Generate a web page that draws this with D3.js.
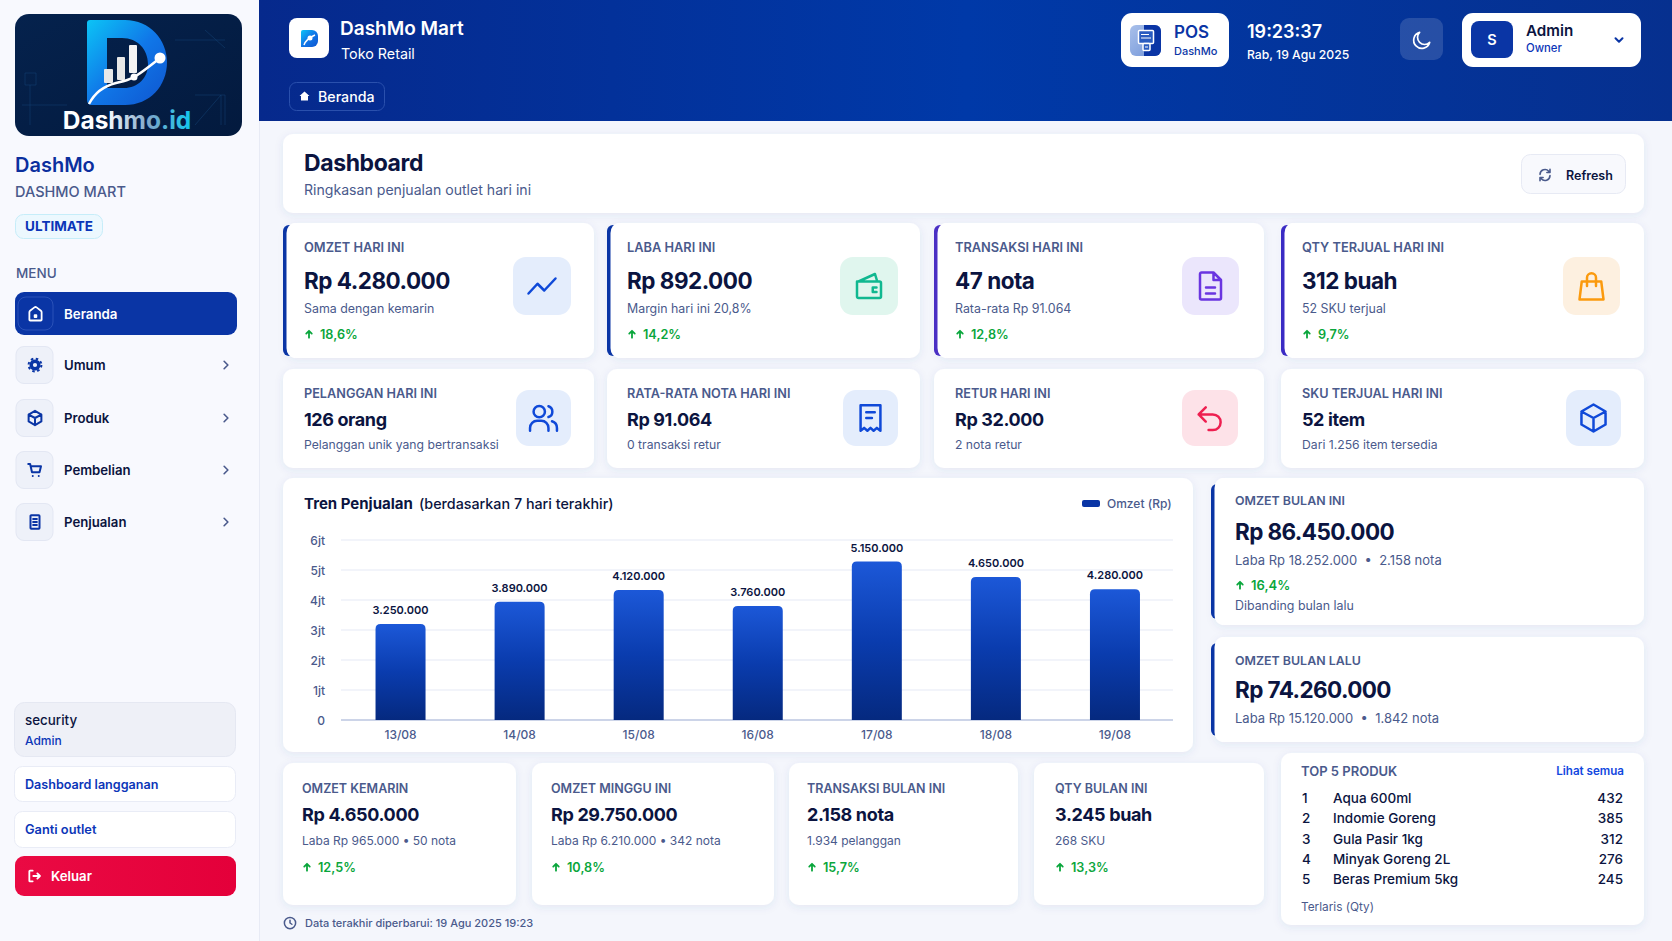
<!DOCTYPE html>
<meta charset="utf-8">
<style>

body {
  margin: 0;
  background: #f4f6fc;
}

svg {
  display: block;
  font-family: Inter, "Noto Sans", sans-serif;
}

text {
  dominant-baseline: central;
  white-space: pre;
}

.axis path, .axis line {
  display: none;
}

</style>
<body>
<div id="page"></div>
<script src="https://cdn.jsdelivr.net/npm/d3@7"></script>
<script>

// chart data
var days = ["13/08", "14/08", "15/08", "16/08", "17/08", "18/08", "19/08"];
var omzet = [3.2, 3.94, 4.33, 3.8, 5.28, 4.77, 4.36]; // bar heights as drawn, in juta
var omzetLabels = ["3.250.000", "3.890.000", "4.120.000", "3.760.000", "5.150.000", "4.650.000", "4.280.000"];
var yTicks = [0, 1, 2, 3, 4, 5, 6];

// kpi rows
var topLabels = ["OMZET HARI INI", "LABA HARI INI", "TRANSAKSI HARI INI", "QTY TERJUAL HARI INI"];
var topValues = ["Rp 4.280.000", "Rp 892.000", "47 nota", "312 buah"];
var topSubs = ["Sama dengan kemarin", "Margin hari ini 20,8%", "Rata-rata Rp 91.064", "52 SKU terjual"];
var topDeltas = ["18,6%", "14,2%", "12,8%", "9,7%"];

var midLabels = ["PELANGGAN HARI INI", "RATA-RATA NOTA HARI INI", "RETUR HARI INI", "SKU TERJUAL HARI INI"];
var midValues = ["126 orang", "Rp 91.064", "Rp 32.000", "52 item"];
var midSubs = ["Pelanggan unik yang bertransaksi", "0 transaksi retur", "2 nota retur", "Dari 1.256 item tersedia"];

var lowLabels = ["OMZET KEMARIN", "OMZET MINGGU INI", "TRANSAKSI BULAN INI", "QTY BULAN INI"];
var lowValues = ["Rp 4.650.000", "Rp 29.750.000", "2.158 nota", "3.245 buah"];
var lowSubs = ["Laba Rp 965.000 • 50 nota", "Laba Rp 6.210.000 • 342 nota", "1.934 pelanggan", "268 SKU"];
var lowDeltas = ["12,5%", "10,8%", "15,7%", "13,3%"];

var products = ["Aqua 600ml", "Indomie Goreng", "Gula Pasir 1kg", "Minyak Goreng 2L", "Beras Premium 5kg"];
var productQty = [432, 385, 312, 276, 245];

var menuItems = ["Umum", "Produk", "Pembelian", "Penjualan"];

var icons = {
  trend: "M3 17l6-6.500 4.500 4.500L21 7",
  wallet: "M4 9h15a1 1 0 0 1 1 1v9a1 1 0 0 1-1 1H5a1 1 0 0 1-1-1V9zM5 9l11-5 1.500 5M17 13h-2.500v3H17",
  file: "M6 3h8l5 5v12a1 1 0 0 1-1 1H6a1 1 0 0 1-1-1V4a1 1 0 0 1 1-1zM14 3v5h5M9 13h6M9 17h6",
  bag: "M5.500 9h13L20 21H4zM9 12V6.500a3 3 0 0 1 6 0V12",
  users: "M9 3.500a4 4 0 1 1 0 8 4 4 0 0 1 0-8zM2.500 21v-2a5 5 0 0 1 5-5h3a5 5 0 0 1 5 5v2M15.500 3.700a4 4 0 0 1 0 7.600M18 14.300a5 5 0 0 1 3.500 4.700v2",
  receipt: "M5 3h14v18l-2.500-2-2.300 2-2.200-2-2.200 2-2.300-2L5 21zM9 8h6M9 12h4",
  undo: "M9 4.500L4 9.500l5 5M4 9.500h10a5.500 5.500 0 0 1 0 11h-3",
  box: "M12 2.500l8.500 4.900v9.200L12 21.500l-8.500-4.900V7.400zM3.500 7.400L12 12l8.500-4.600M12 12v9.500",
  home: "M5 10.500a2 2 0 0 1 .8-1.600l5-3.900a2 2 0 0 1 2.400 0l5 3.900a2 2 0 0 1 .8 1.600V19a1 1 0 0 1-1 1H6a1 1 0 0 1-1-1zM11 14h2v2h-2z",
  cart: "M3 4h2.500l2.500 11h10l2-8H6.500M9 20h.01M17 20h.01",
  doc: "M7 3h10a1 1 0 0 1 1 1v16a1 1 0 0 1-1 1H7a1 1 0 0 1-1-1V4a1 1 0 0 1 1-1zM9.500 8h5M9.500 12h5M9.500 16h5",
  chevron: "M9 6l6 6-6 6",
  down: "M6 9l6 6 6-6",
  moon: "M20 14.500A8.500 8.500 0 1 1 9.500 4 7 7 0 0 0 20 14.500z",
  refresh: "M4 11a8 8 0 0 1 14-5l2 2M20 3v5h-5M20 13a8 8 0 0 1-14 5l-2-2M4 21v-5h5",
  logout: "M10 4H6a1 1 0 0 0-1 1v14a1 1 0 0 0 1 1h4M11 12h10M17 8l4 4-4 4",
  arrow: "M12 20V5M6 11l6-6 6 6",
  clock: "M12 3a9 9 0 1 1 0 18 9 9 0 0 1 0-18zM12 7.500V12l3 2"
};

var navy = "#0b1440",
    slate = "#4a5a8c",
    blue = "#0a35a5",
    link = "#0c36b8",
    green = "#0aa63c";

var svg = d3.select("#page").append("svg")
    .attr("width", 1672)
    .attr("height", 941);

var defs = svg.append("defs");

function gradient(id, stops, x2, y2) {
  var g = defs.append("linearGradient").attr("id", id)
      .attr("x1", 0).attr("y1", 0).attr("x2", x2).attr("y2", y2);
  stops.forEach(function(s, i) {
    g.append("stop").attr("offset", i / (stops.length - 1)).attr("stop-color", s);
  });
}

gradient("bar", ["#1c58d8", "#0a3cae", "#05297f"], 0, 1);
gradient("head", ["#06298c", "#0039a8", "#06308f"], 1, 0);
gradient("logoBg", ["#05224d", "#031a3e"], 1, 1);
gradient("logoD", ["#0cc4f6", "#1077e8", "#0f55cf"], 1, 1);
gradient("logoText", ["#ffffff", "#ffffff", "#7fa6c9", "#10c8ee"], 1, 0);
gradient("pos", ["#a9c0ea", "#6f93d8"], 1, 1);
gradient("red", ["#ea0a43", "#e4003a"], 1, 0);

var shadow = defs.append("filter").attr("id", "soft")
    .attr("x", "-5%").attr("y", "-10%").attr("width", "110%").attr("height", "125%");
shadow.append("feDropShadow")
    .attr("dx", 0).attr("dy", 2).attr("stdDeviation", 4)
    .attr("flood-color", "#3a4f94").attr("flood-opacity", .09);

function rect(x, y, w, h, r, fill, stroke) {
  return svg.append("rect")
      .attr("x", x).attr("y", y)
      .attr("width", w).attr("height", h)
      .attr("rx", r)
      .attr("fill", fill)
      .attr("stroke", stroke || "none");
}

function text(x, y, s, size, weight, color, anchor, spacing) {
  return svg.append("text")
      .attr("x", x).attr("y", y)
      .attr("font-size", size)
      .attr("font-weight", weight)
      .attr("fill", color)
      .attr("text-anchor", anchor || "start")
      .attr("letter-spacing", spacing || null)
      .text(s);
}

function icon(name, cx, cy, size, color, width) {
  var k = size / 24;
  return svg.append("path")
      .attr("d", icons[name])
      .attr("transform", "translate(" + (cx - size / 2) + "," + (cy - size / 2) + ") scale(" + k + ")")
      .attr("fill", "none")
      .attr("stroke", color)
      .attr("stroke-width", (width || 2) / k)
      .attr("stroke-linecap", "round")
      .attr("stroke-linejoin", "round");
}

function card(x, y, w, h, accent, inset) {
  rect(accent ? x + 3.500 : x, y, accent ? w - 3.500 : w, h, 10, "#fff").attr("filter", "url(#soft)");
  if (accent) {
    rect(x, y + inset, 14, h - inset * 2, 6, accent);
    rect(x + 3.500, y, 16, h, 10, "#fff");
  }
}

function delta(x, y, s, size) {
  icon("arrow", x + 5, y, 11, green, 1.8);
  text(x + 16, y, s, size, 600, green);
}

// sidebar
rect(0, 0, 259, 941, 0, "#f8f9fe");
svg.append("line")
    .attr("x1", 259.5).attr("x2", 259.5).attr("y1", 0).attr("y2", 941)
    .attr("stroke", "#e8ebf5");

// logo
rect(15, 14, 227, 122, 14, "url(#logoBg)");
svg.append("path")
    .attr("d", "M25 73h11v12H25zM30 85v40M22 105h45M195 125l26-30v30M195 95h30v30M205 30l20 18M175 40h50")
    .attr("fill", "none").attr("stroke", "#134071").attr("stroke-opacity", .55);
svg.append("path")
    .attr("d", "M90 20H125C150 20 167 40 167 62C167 86 150 105 125 105H92Q87 105 87 100V23Q87 20 90 20ZM107 38V88H124C138 88 148 78 148 64C148 50 138 38 122 38Z")
    .attr("fill", "url(#logoD)")
    .attr("fill-rule", "evenodd");
rect(104, 69, 9, 14, 1, "#e8e8e8");
rect(117, 57, 8, 23, 1, "#e8e8e8");
rect(129, 45, 8, 28, 1, "#f4f4f4");
svg.append("path")
    .attr("d", "M89 104C95 92 104 86 116 83S128 80 134 77S150 66 160 58")
    .attr("fill", "none").attr("stroke", "#fff").attr("stroke-width", 2.500);
svg.append("circle").attr("cx", 134).attr("cy", 77).attr("r", 3.500).attr("fill", "#fff");
svg.append("circle").attr("cx", 160).attr("cy", 58).attr("r", 5.500).attr("fill", "#fff");
text(127, 120, "Dashmo.id", 24.500, 700, "url(#logoText)", "middle");

text(15, 165, "DashMo", 20, 600, "#0b2f9e");
text(15, 191, "DASHMO MART", 14.500, 500, slate);
rect(15.500, 214.500, 87, 24, 8, "#ecf8fe", "#c6edf9");
text(59, 226, "ULTIMATE", 13.500, 700, "#0a35b8", "middle");
text(16, 273, "MENU", 13.500, 500, slate);

rect(15, 292, 222, 43, 9, blue);
rect(18, 297, 35, 33, 8, "none", "#2a52b8");
icon("home", 35.500, 313.500, 21, "#fff", 1.8);
text(64, 313.500, "Beranda", 13.300, 600, "#fff");

var menuIcons = ["gear", "box", "cart", "doc"],
    menuY = [365, 418, 470, 522];

menuItems.forEach(function(m, i) {
  rect(16, menuY[i] - 18.500, 37, 37, 8, "#eef1f9", "#e3e7f3");
  if (menuIcons[i] == "gear") {
    svg.append("circle").attr("cx", 35).attr("cy", menuY[i]).attr("r", 3.800)
        .attr("fill", "none").attr("stroke", blue).attr("stroke-width", 3.400);
    svg.append("circle").attr("cx", 35).attr("cy", menuY[i]).attr("r", 6.400)
        .attr("fill", "none").attr("stroke", blue).attr("stroke-width", 2).attr("stroke-dasharray", "2.500 2.530");
  } else {
    icon(menuIcons[i], 35, menuY[i], 18, blue, 2);
  }
  text(64, menuY[i] - .5, m, 13.200, 600, navy);
  icon("chevron", 226, menuY[i], 15, "#4a5a8c", 1.6);
});

rect(14.500, 702.500, 221, 54, 10, "#eef0f7", "#e5e8f2");
text(25, 720, "security", 13.400, 500, navy);
text(25, 740, "Admin", 12, 500, link);
rect(14.500, 766.500, 221, 35, 8, "#fff", "#e9ecf6");
text(25, 784, "Dashboard langganan", 12.600, 600, link);
rect(14.500, 811.500, 221, 36, 8, "#fff", "#e9ecf6");
text(25, 829, "Ganti outlet", 12.800, 600, link);
rect(15, 856, 221, 40, 9, "url(#red)");
icon("logout", 34, 876, 16, "#fff", 1.8);
text(51, 875.500, "Keluar", 13.200, 600, "#fff");

// header
rect(259, 0, 1413, 121, 0, "url(#head)");
rect(289, 18, 40, 40, 8, "#fff");
svg.append("path")
    .attr("d", "M303 30h9a6 6 0 0 1 6 6v5a6 6 0 0 1-6 6h-11V32a2 2 0 0 1 2-2z")
    .attr("fill", "url(#logoD)");
svg.append("path")
    .attr("d", "M304 45Q306 39 315 35")
    .attr("fill", "none").attr("stroke", "#fff").attr("stroke-width", 1.500);
svg.append("circle").attr("cx", 310).attr("cy", 38).attr("r", 2.500).attr("fill", "#fff");
text(340, 28, "DashMo Mart", 19, 600, "#fff");
text(341, 53, "Toko Retail", 14.300, 400, "#fff");
rect(289.500, 82.500, 95, 28, 7, "none", "#2a50ad");
svg.append("path")
    .attr("d", "M299.500 96l5-4.500 5 4.500h-1.500v4.500h-7V96z")
    .attr("fill", "#fff");
text(318, 96, "Beranda", 14.200, 500, "#fff");

rect(1121, 13, 108, 54, 11, "#fff");
rect(1130, 25, 31, 31, 6, "url(#pos)");
svg.append("path")
    .attr("d", "M1144 25h11a6 6 0 0 1 6 6v19a6 6 0 0 1-6 6h-11z")
    .attr("fill", blue);
rect(1138.500, 30.500, 15, 13, 1, "#2a5cc0", "#fff").attr("stroke-width", 1.500);
rect(1143, 43.500, 7, 7, 1, "#2a5cc0", "#fff").attr("stroke-width", 1.500);
svg.append("path")
    .attr("d", "M1141 34.500h8M1141 38h10M1145 47h3")
    .attr("stroke", "#fff");
text(1174, 32, "POS", 17, 600, "#0a35a5");
text(1174, 51, "DashMo", 11, 500, "#0a35a5");
text(1247, 31, "19:23:37", 18, 600, "#fff");
text(1247, 54, "Rab, 19 Agu 2025", 12.200, 500, "#fff");
rect(1400, 18, 43, 42, 9, "#fff").attr("fill-opacity", .14);
icon("moon", 1422, 40, 23, "#fff", 1.7);
rect(1462, 13, 179, 54, 11, "#fff");
rect(1471, 21, 42, 37, 8, blue);
text(1492, 39, "S", 14.500, 600, "#fff", "middle");
text(1526, 30, "Admin", 15.200, 600, navy);
text(1526, 48, "Owner", 11.300, 500, link);
icon("down", 1619, 40, 14, blue, 2);

// page title
card(283, 134, 1361, 79);
text(304, 162.500, "Dashboard", 23, 700, navy, "start", -.4);
text(304, 189, "Ringkasan penjualan outlet hari ini", 14.100, 400, slate);
rect(1521.500, 154.500, 104, 39, 9, "#f8f9fd", "#e7eaf4");
icon("refresh", 1545, 175, 15, slate, 1.6);
text(1566, 175, "Refresh", 12.500, 600, navy);

// kpi rows
var colX = [283, 607, 934, 1281],
    colW = [311, 313, 330, 363],
    textX = [304, 627, 955, 1302],
    topAccent = [blue, blue, "#4a2fc4", "#3a2bc4"],
    topIconX = [542, 869, 1210.500, 1591.500],
    midIconX = [543.500, 870.500, 1210, 1593.500],
    topIconW = [58, 58, 57, 57],
    midIconW = [55, 55, 56, 55],
    topIcon = ["trend", "wallet", "file", "bag"],
    midIcon = ["users", "receipt", "undo", "box"],
    topTint = ["#e4edfc", "#e0f6ee", "#ebe6fc", "#fdf0e0"],
    topInk = ["#0f49d8", "#10b890", "#6a35e0", "#fb9a0e"],
    midTint = ["#e4edfc", "#e4edfc", "#fde2e8", "#e4edfc"],
    midInk = ["#0f49d8", "#0f49d8", "#ee1f50", "#0f49d8"];

topLabels.forEach(function(l, i) {
  card(colX[i], 223, colW[i], 135, topAccent[i], 2);
  text(textX[i], 247, l, 12.800, 600, slate);
  text(textX[i], 280.500, topValues[i], 22.500, 700, navy, "start", -.5);
  text(textX[i], 308.500, topSubs[i], 12.400, 400, slate);
  delta(textX[i], 334, topDeltas[i], 12.700);
  rect(topIconX[i] - topIconW[i] / 2, 257, topIconW[i], 58, 13, topTint[i]);
  icon(topIcon[i], topIconX[i], 286, 36, topInk[i], 2.500);
});

midLabels.forEach(function(l, i) {
  card(colX[i], 369, colW[i], 99);
  text(textX[i], 393.500, l, 12.700, 600, slate);
  text(textX[i], 419.500, midValues[i], 18, 700, navy, "start", -.4);
  text(textX[i], 444.500, midSubs[i], 12.200, 400, slate);
  rect(midIconX[i] - midIconW[i] / 2, 390, midIconW[i], 56, 13, midTint[i]);
  icon(midIcon[i], midIconX[i], 418, 34, midInk[i], 2.500);
});

// chart
card(283, 478, 910, 274);
text(304, 503, "Tren Penjualan", 15, 700, navy);
text(419, 503, "(berdasarkan 7 hari terakhir)", 14.300, 500, navy);
rect(1082, 500, 18, 7, 2, blue);
text(1107, 503, "Omzet (Rp)", 12, 500, slate);

var x = d3.scaleBand()
    .domain(days)
    .range([341, 1174.5])
    .paddingInner(.58)
    .paddingOuter(.29);

var y = d3.scaleLinear()
    .domain([0, 6])
    .range([720, 540]);

svg.append("g").selectAll("line")
    .data(yTicks)
  .enter().append("line")
    .attr("x1", 341)
    .attr("x2", 1173)
    .attr("y1", y)
    .attr("y2", y)
    .attr("stroke", function(d) { return d ? "#eef1f8" : "#ccd4e8"; })
    .attr("stroke-width", function(d) { return d ? 1.500 : 2; });

var yAxis = svg.append("g")
    .attr("class", "axis")
    .attr("transform", "translate(325,0)")
    .call(d3.axisLeft(y).tickValues(yTicks).tickSize(0).tickPadding(0)
      .tickFormat(function(d) { return d ? d + "jt" : "0"; }));

var xAxis = svg.append("g")
    .attr("class", "axis")
    .attr("transform", "translate(0,734)")
    .call(d3.axisBottom(x).tickSize(0).tickPadding(0));

svg.selectAll(".axis text")
    .attr("dy", null)
    .attr("y", null)
    .attr("font-size", 12)
    .attr("font-weight", 500)
    .attr("font-family", "Inter")
    .attr("fill", slate);

svg.append("g").selectAll("path")
    .data(omzet)
  .enter().append("path")
    .attr("fill", "url(#bar)")
    .attr("d", function(d, i) {
      var x0 = x(days[i]), w = x.bandwidth(), t = y(d), r = 5;
      return "M" + x0 + " " + y(0) + "V" + (t + r) + "Q" + x0 + " " + t + " " + (x0 + r) + " " + t
          + "H" + (x0 + w - r) + "Q" + (x0 + w) + " " + t + " " + (x0 + w) + " " + (t + r) + "V" + y(0) + "Z";
    });

svg.append("g").selectAll("text")
    .data(omzet)
  .enter().append("text")
    .attr("x", function(d, i) { return x(days[i]) + x.bandwidth() / 2; })
    .attr("y", function(d) { return y(d) - 14; })
    .attr("text-anchor", "middle")
    .attr("font-size", 11)
    .attr("font-weight", 600)
    .attr("fill", navy)
    .text(function(d, i) { return omzetLabels[i]; });

// month cards
card(1211, 478, 433, 147, blue, 6);
text(1235, 500.500, "OMZET BULAN INI", 12.400, 600, slate);
text(1235, 531.500, "Rp 86.450.000", 22.500, 700, navy, "start", -.6);
text(1235, 560, "Laba Rp 18.252.000  •  2.158 nota", 13, 400, slate);
delta(1235, 585, "16,4%", 13);
text(1235, 605, "Dibanding bulan lalu", 12.400, 400, slate);

card(1211, 637, 433, 105, blue, 6);
text(1235, 660.500, "OMZET BULAN LALU", 12.400, 600, slate);
text(1235, 689.500, "Rp 74.260.000", 22.500, 700, navy, "start", -.6);
text(1235, 718, "Laba Rp 15.120.000  •  1.842 nota", 13, 400, slate);

// top products
card(1281, 753, 363, 172);
text(1301, 771, "TOP 5 PRODUK", 13, 600, slate);
text(1624, 771, "Lihat semua", 11.600, 600, "#1248e0", "end");

var rowY = d3.scaleLinear().domain([0, 4]).range([798, 879]);

products.forEach(function(p, i) {
  text(1302, rowY(i), i + 1, 13.500, 500, navy);
  text(1333, rowY(i), p, 13.500, 500, navy);
  text(1623, rowY(i), productQty[i], 13.500, 500, navy, "end");
});
text(1301, 907, "Terlaris (Qty)", 11.800, 400, slate);

// bottom cards
var lowX = [283, 532, 789, 1034],
    lowW = [233, 242, 229, 230],
    lowText = [302, 551, 807, 1055];

lowLabels.forEach(function(l, i) {
  card(lowX[i], 763, lowW[i], 142);
  text(lowText[i], 788, l, 12.500, 600, slate);
  text(lowText[i], 814, lowValues[i], 18, 700, navy, "start", -.35);
  text(lowText[i], 840, lowSubs[i], 12, 400, slate);
  delta(lowText[i], 867, lowDeltas[i], 12.700);
});

icon("clock", 290, 923, 15, slate, 1.500);
text(305, 923, "Data terakhir diperbarui: 19 Agu 2025 19:23", 11, 500, slate);

</script>
